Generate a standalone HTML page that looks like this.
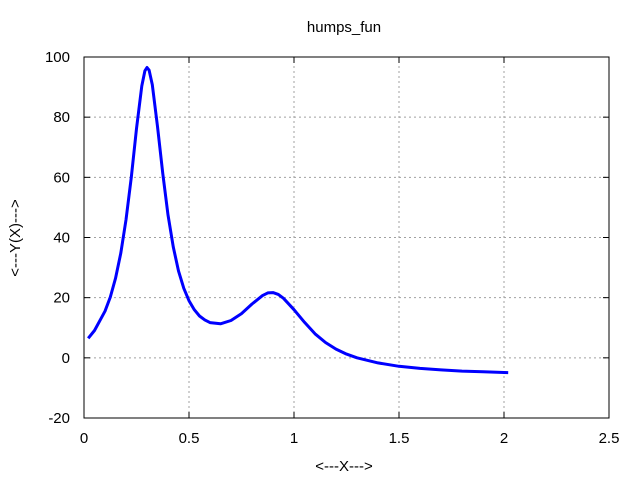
<!DOCTYPE html>
<html><head><meta charset="utf-8"><style>
html,body{margin:0;padding:0;background:#fff;}
svg text{font-family:"Liberation Sans",sans-serif;font-size:15px;fill:#000;}
</style></head><body>
<svg id="chart" width="640" height="480" xmlns="http://www.w3.org/2000/svg">
<rect x="0" y="0" width="640" height="480" fill="#fff"/>
<g id="grid"></g>
<g id="ticks"></g>
<rect x="84" y="57" width="525" height="361" fill="none" stroke="#000" stroke-width="1"/>
<path id="line" fill="none" stroke="#0000ff" stroke-width="3" stroke-linejoin="round"/>
<text x="344" y="32" text-anchor="middle">humps_fun</text>
<text x="344" y="471" text-anchor="middle">&lt;---X---&gt;</text>
<text x="0" y="0" text-anchor="middle" transform="translate(20,238) rotate(-90)">&lt;---Y(X)---&gt;</text>
</svg>
<script>
const xs=[0.02,0.05,0.1,0.125,0.15,0.175,0.2,0.225,0.25,0.275,0.29,0.3,0.31,0.325,0.35,0.375,0.4,0.425,0.45,0.475,0.5,0.525,0.55,0.575,0.6,0.65,0.7,0.75,0.8,0.85,0.875,0.9,0.925,0.95,1.0,1.05,1.1,1.15,1.2,1.25,1.3,1.4,1.5,1.6,1.7,1.8,1.9,2.0,2.02];
const ys=[6.5,9.1,15.5,20.2,26.4,34.8,45.9,60.0,76.2,90.4,95.4,96.5,95.6,90.8,76.9,61.2,47.5,36.8,28.9,23.1,19,16.0,13.9,12.6,11.7,11.3,12.4,14.7,17.9,20.7,21.6,21.7,21.1,19.8,16,11.8,8.0,5.1,2.9,1.25,0,-1.7,-2.8,-3.5,-4.0,-4.4,-4.65,-4.86,-4.9];
const xTicks=[0,0.5,1,1.5,2,2.5];
const xTickLabels=["0","0.5","1","1.5","2","2.5"];
const yTicks=[-20,0,20,40,60,80,100];
const yTickLabels=["-20","0","20","40","60","80","100"];
const X0=84,X1=609,Y0=418,Y1=57;
const xMin=0,xMax=2.5,yMin=-20,yMax=100;
function sx(v){return X0+(v-xMin)/(xMax-xMin)*(X1-X0);}
function sy(v){return Y0-(v-yMin)/(yMax-yMin)*(Y0-Y1);}
const NS="http://www.w3.org/2000/svg";
const grid=document.getElementById('grid'),ticks=document.getElementById('ticks');
function mk(tag,attrs,parent){const e=document.createElementNS(NS,tag);for(const k in attrs)e.setAttribute(k,attrs[k]);parent.appendChild(e);return e;}
xTicks.forEach((v,i)=>{
  const x=sx(v);
  if(i>0&&i<xTicks.length-1){const g=mk('line',{x1:x,x2:x,y1:Y0,y2:Y1,stroke:'#a0a0a0','stroke-dasharray':'2,3','stroke-width':1},grid);
  
  }
  mk('line',{x1:x,x2:x,y1:Y0,y2:Y0-6,stroke:'#000'},ticks);
  mk('line',{x1:x,x2:x,y1:Y1,y2:Y1+6,stroke:'#000'},ticks);
  const t=mk('text',{x:x,y:Y0+25,'text-anchor':'middle'},ticks);
  t.textContent=xTickLabels[i];
  
  
});
yTicks.forEach((v,i)=>{
  const y=sy(v);
  if(i>0&&i<yTicks.length-1){const g=mk('line',{x1:X0,x2:X1,y1:y,y2:y,stroke:'#a0a0a0','stroke-dasharray':'2,3','stroke-width':1},grid);
  
  }
  mk('line',{x1:X0,x2:X0+6,y1:y,y2:y,stroke:'#000'},ticks);
  mk('line',{x1:X1,x2:X1-6,y1:y,y2:y,stroke:'#000'},ticks);
  const t=mk('text',{x:X0-14,y:y+5,'text-anchor':'end'},ticks);
  t.textContent=yTickLabels[i];
  
  
});
document.getElementById('line').setAttribute('d',xs.map((v,i)=>(i?'L':'M')+sx(v).toFixed(1)+','+sy(ys[i]).toFixed(1)).join(' '));
</script>
</body></html>
